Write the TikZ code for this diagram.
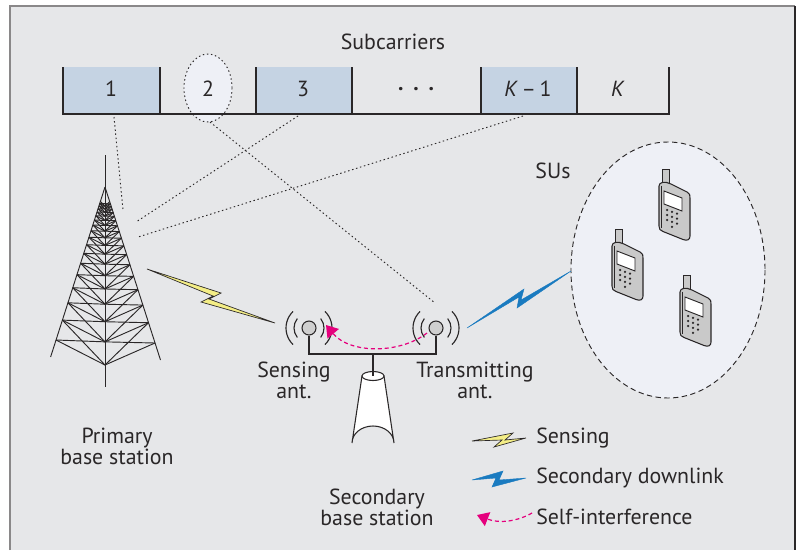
\documentclass[tikz,border=0pt]{standalone}
\usepackage{fontspec}
\setmainfont{PT Sans}
\usetikzlibrary{arrows.meta}
\definecolor{bg}{HTML}{E6E7E9}
\definecolor{subblue}{HTML}{C5D3E3}
\definecolor{paleblue}{HTML}{EEF0F6}
\definecolor{ink}{HTML}{2A2728}
\definecolor{boltyellow}{HTML}{F4EE86}
\definecolor{boltblue}{HTML}{1A7BC0}
\definecolor{selfpink}{HTML}{E5007D}
\definecolor{phonegrey}{HTML}{C9C9C9}
\definecolor{antgrey}{HTML}{CFCFCF}
\tikzset{
  label/.style={text=ink, inner sep=0pt, align=center},
  boxline/.style={draw=ink, line width=0.8pt},
  dotline/.style={draw=ink, line width=0.7pt, dash pattern=on 1.1pt off 2pt},
  towerline/.style={draw=ink, line width=0.7pt},
  waves/.style={draw=ink, line width=0.85pt},
  antball/.style={circle, draw=ink, fill=antgrey, line width=0.8pt, minimum size=10.5pt, inner sep=0pt},
  sensebolt/.style={fill=boltyellow, draw=ink, line width=0.5pt, line join=miter},
  downbolt/.style={fill=boltblue, draw=boltblue, line width=0.3pt},
  selfint/.style={draw=selfpink, line width=0.9pt, dash pattern=on 3pt off 2.2pt,
    -{Triangle[length=8.5pt, width=11pt, fill=selfpink]}},
  phone/.pic={
    % antenna stub
    \filldraw[fill=phonegrey, draw=ink, line width=0.7pt] (3,-13) rectangle (10,2);
    % body
    \filldraw[fill=phonegrey, draw=ink, line width=0.8pt]
      (0,4) .. controls (0,0) and (6,-1) .. (12,2) -- (28,10)
      .. controls (31,11.5) and (31,13) .. (31,16) -- (31,54)
      .. controls (31,58) and (28,59) .. (24,57.5) -- (4,49.5)
      .. controls (1,48.5) and (0,47) .. (0,44) -- cycle;
    \draw[ink, line width=0.4pt] (2.5,3.5) -- (2.5,46);
    % screen
    \filldraw[fill=white, draw=ink, line width=0.7pt] (5,9) -- (23,16) -- (23,29) -- (5,22) -- cycle;
    % keypad
    \foreach \i in {0,1,2} {
      \foreach \j in {0,1,2} {
        \fill[ink] (8+5*\i, 28+5*\j+1.8*\i) circle[radius=1.25];
      }
    }
    \fill[ink] (13, 44.8) circle[radius=1.25];
  }
}
\begin{document}
\begin{tikzpicture}[x=0.75pt, y=-0.75pt, font={\fontsize{16.4}{15.75}\selectfont}]
\useasboundingbox (0,0) rectangle (798,550);

% panel
\fill[bg] (10,6) rectangle (795,550);
\draw[ink!55, line width=0.9pt] (10,550) -- (10,6) -- (795,6);
\draw[ink, line width=1.4pt] (795,6) -- (795,550);

% subcarriers
\node[label] (title) at (393,42) {Subcarriers};
\fill[subblue] (63,67) rectangle (160,114);
\fill[subblue] (256,67) rectangle (352,114);
\fill[subblue] (481,67) rectangle (577,114);
\fill[paleblue] (208,88) ellipse[x radius=24, y radius=34];
\draw[boxline] (63,67) -- (63,114) -- (669,114) -- (669,67);
\foreach \x in {160,256,352,481,577} \draw[boxline] (\x,67) -- (\x,114);
\draw[dotline] (208,88) ellipse[x radius=24, y radius=34];
\node[label] (n1) at (111,89) {1};
\node[label] (n2) at (208,89) {2};
\node[label] (n3) at (303,89) {3};
\node[label] (ndots) at (416,89) {\textbf{.\hspace{0.45em}.\hspace{0.45em}.}};
\node[label] (nK1) at (528,89) {\textit{K}\,–\,1};
\node[label] (nK) at (618,89) {\textit{K}};

% primary base station (lattice tower)
\draw[towerline] (105,155) -- (105,387);
\draw[towerline] (105,187) -- (50.6,357);
\draw[towerline] (105,187) -- (160.5,360);
\foreach \k in {0,...,16} {
  \pgfmathsetmacro\ta{0.87^\k}
  \pgfmathsetmacro\tb{0.87^(\k+1)}
  \draw[towerline] (105-49*\ta,187+153*\ta) -- (105,187+178*\ta) -- (105+50*\ta,187+156*\ta);
  \draw[towerline] (105-49*\ta,187+153*\ta) -- (105,187+178*\tb);
  \draw[towerline] (105,187+178*\ta) -- (105-49*\tb,187+153*\tb);
  \draw[towerline] (105+50*\ta,187+156*\ta) -- (105,187+178*\tb);
  \draw[towerline] (105,187+178*\ta) -- (105+50*\tb,187+156*\tb);
}
\node[label] (pbs) at (117,446) {Primary\\base station};

% secondary base station
\node[antball] (sx) at (309,328) {};
\node[antball] (tx) at (436,328) {};
\foreach \c in {sx,tx} {
  \draw[waves] ([shift={(-39:15)}]\c.center) arc[start angle=-39, end angle=39, radius=15];
  \draw[waves] ([shift={(141:15)}]\c.center) arc[start angle=141, end angle=219, radius=15];
  \draw[waves] ([shift={(-46:23)}]\c.center) arc[start angle=-46, end angle=46, radius=23];
  \draw[waves] ([shift={(134:23)}]\c.center) arc[start angle=134, end angle=226, radius=23];
}
\draw[boxline] (sx.south) -- (309,354) -- (436,354) -- (tx.south);
\coordinate (mast) at (373,354);
\filldraw[fill=white, draw=ink, line width=0.8pt]
  (362,376) -- (352,443) arc[start angle=180, end angle=360, x radius=21, y radius=17] -- (384,376) -- cycle;
\filldraw[fill=white, draw=ink, line width=0.8pt] (373,376) ellipse[x radius=11, y radius=4.5];
\draw[boxline] (mast) -- (373,376);
\node[label] (sxl) at (294,380) {Sensing\\ant.};
\node[label] (txl) at (475,380) {Transmitting\\ant.};
\node[label] (sbs) at (377,507) {Secondary\\base station};

% subcarrier links
\coordinate (c1) at (114,117);
\coordinate (c2) at (210,122);
\coordinate (c3) at (298,116);
\coordinate (cK1) at (523,116);
\coordinate (p1) at (123,210);
\coordinate (p3) at (136,222);
\coordinate (pK1) at (138,237);
\coordinate (t2) at (435,303);
\draw[dotline] (c1) -- (p1);
\draw[dotline] (c3) -- (p3);
\draw[dotline] (cK1) -- (pK1);
\draw[dotline] (c2) -- (t2);

% secondary users
\filldraw[fill=paleblue, draw=ink, line width=0.7pt, dash pattern=on 4pt off 2.6pt]
  (668,270) ellipse[x radius=97, y radius=128];
\node[label] (sus) at (553,171) {SUs};
\pic at (659,182) {phone};
\pic at (612,242) {phone};
\pic at (680,288) {phone};

% sensing and downlink bolts
\filldraw[sensebolt] (147,269) -- (221,293) -- (209,299) -- (275,323) -- (201,302) -- (213,296) -- cycle;
\filldraw[downbolt] (467,328) -- (524,289) -- (521,300) -- (571,271) -- (517,308) -- (519,297) -- cycle;

% self-interference
\draw[selfint] ([shift={(-9,5)}]tx.center) .. controls (400,354) and (350,354) .. ([shift={(17,-3)}]sx.center);

% legend
\filldraw[sensebolt] (472,441) -- (513,433) -- (505,440) -- (526,438) -- (494,447) -- (502,440) -- cycle;
\filldraw[downbolt] (472,480) -- (503,471) -- (499,480) -- (526,478) -- (492,487) -- (496,478) -- cycle;
\draw[selfint] (532,513) .. controls (518,521) and (500,524) .. (477,515);
\node[label, anchor=west] (lg1) at (536,438) {Sensing};
\node[label, anchor=west] (lg2) at (536,478) {Secondary downlink};
\node[label, anchor=west] (lg3) at (536,517) {Self-interference};
\end{tikzpicture}
\end{document}
